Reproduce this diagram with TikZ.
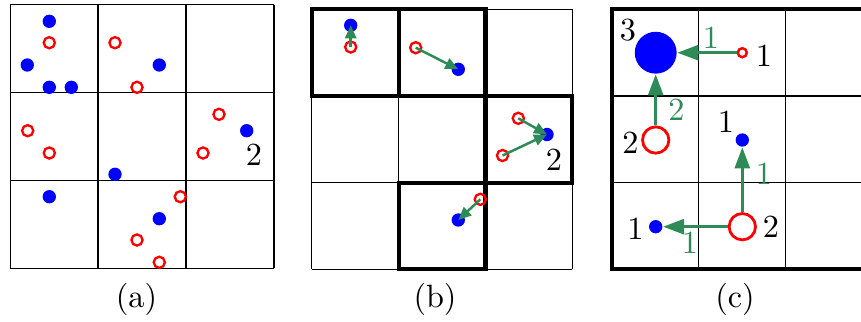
\documentclass[tikz,border=0pt]{standalone}
\usetikzlibrary{arrows.meta}
\definecolor{sgreen}{RGB}{46,139,87}
\begin{document}
\begin{tikzpicture}[x=0.3226pt,y=-0.3226pt,
  gridline/.style={line width=0.4pt, black},
  thickbox/.style={line width=1.3pt, line join=miter},
  bdot/.style={circle, fill=blue, inner sep=0pt, minimum size=4.3pt},
  rdot/.style={circle, draw=red, line width=0.75pt, inner sep=0pt, minimum size=3.6pt},
  garrow/.style={draw=sgreen, line width=0.8pt, -{Triangle[length=4.2pt,width=3.6pt]}},
  gbig/.style={draw=sgreen, line width=1pt, -{Triangle[length=6.8pt,width=4.8pt]}},
  lbl/.style={inner sep=0pt, font=\fontsize{10.4}{12}\selectfont},
  glbl/.style={lbl, text=sgreen}]
\useasboundingbox (0,0) rectangle (861,321);
\clip (0,0) rectangle (861,321);

% ---------- (a)
\foreach \i in {0,1,2,3} {
  \draw[gridline] ({10.2+87.9*\i},4.7) -- ({10.2+87.9*\i},268.4);
  \draw[gridline] (10.2,{4.7+87.9*\i}) -- (273.9,{4.7+87.9*\i});
}
\node[bdot] (a1) at (49.3,21.3) {};
\node[rdot] (a2) at (49.3,42.7) {};
\node[bdot] (a3) at (27.3,65) {};
\node[bdot] (a4) at (49.3,87.3) {};
\node[bdot] (a5) at (71.3,87.3) {};
\node[rdot] (a6) at (115,42.7) {};
\node[bdot] (a7) at (159.3,65) {};
\node[rdot] (a8) at (137,87.3) {};
\node[rdot] (a9) at (219,114.3) {};
\node[bdot] (a10) at (246.7,130.7) {};
\node[rdot] (a11) at (203,153) {};
\node[lbl] (a12) at (254,155) {2};
\node[rdot] (a13) at (27.7,130.7) {};
\node[rdot] (a14) at (49.3,153) {};
\node[bdot] (a15) at (115,174.3) {};
\node[rdot] (a16) at (180.3,196.7) {};
\node[bdot] (a17) at (49.3,196.7) {};
\node[bdot] (a18) at (159.3,218.7) {};
\node[rdot] (a19) at (137,240) {};
\node[rdot] (a20) at (159.3,262.3) {};
\node[lbl] (capa) at (136.5,299) {(a)};

% ---------- (b)
\foreach \i in {0,1,2,3} {
  \draw[gridline] ({311.7+86.9*\i},9.3) -- ({311.7+86.9*\i},269.3);
  \draw[gridline] (311.7,{9.3+86.7*\i}) -- (572.3,{9.3+86.7*\i});
}
\draw[thickbox] (311.7,9.3) rectangle (398.6,96);
\draw[thickbox] (398.6,9.3) rectangle (485.5,96);
\draw[thickbox] (485.5,96) rectangle (572.3,182.7);
\draw[thickbox] (398.6,182.7) rectangle (485.5,269.3);
\node[bdot] (b1) at (350.7,25.3) {};
\node[rdot] (b2) at (350.7,47) {};
\node[rdot] (b3) at (415.7,47.7) {};
\node[bdot] (b4) at (458.3,69.3) {};
\node[rdot] (b5) at (518.3,118.3) {};
\node[rdot] (b6) at (502.5,155.5) {};
\node[bdot] (b7) at (547,134.5) {};
\node[lbl] (b10) at (554,159.5) {2};
\node[rdot] (b8) at (480.3,199.3) {};
\node[bdot] (b9) at (458.3,220) {};
\node[lbl] (capb) at (435,299) {(b)};
\draw[garrow] (b2.center) -- (b1.center);
\draw[garrow] (b3.center) -- (b4.center);
\draw[garrow] (b5.center) -- (b7.center);
\draw[garrow] (b6.center) -- (b7.center);
\draw[garrow] (b8.center) -- (b9.center);

% ---------- (c)
\foreach \i in {1,2} {
  \draw[gridline] ({611.7+87*\i},9.3) -- ({611.7+87*\i},269.3);
  \draw[gridline] (611.7,{9.3+86.7*\i}) -- (872.7,{9.3+86.7*\i});
}
\draw[thickbox] (611.7,9.3) rectangle (872.7,269.3);
\node[circle, fill=blue, inner sep=0pt, minimum size=13.5pt] (c1) at (655.7,52.7) {};
\node[rdot, line width=0.8pt, minimum size=2.9pt] (c2) at (742.3,52.7) {};
\node[rdot, line width=0.9pt, minimum size=8.5pt] (c3) at (655.7,140) {};
\node[bdot] (c4) at (742.3,140) {};
\node[rdot, line width=0.9pt, minimum size=8.5pt] (c5) at (742.3,226.7) {};
\node[bdot] (c6) at (655.7,226.7) {};
\node[lbl] (l1) at (628,30) {3};
\node[lbl] (l2) at (764,56) {1};
\node[glbl] (l3) at (711,37.5) {1};
\node[glbl] (l4) at (676.3,110) {2};
\node[lbl] (l5) at (630.5,142.5) {2};
\node[lbl] (l6) at (725.8,121.7) {1};
\node[glbl] (l7) at (764,174) {1};
\node[lbl] (l8) at (635.5,228.3) {1};
\node[lbl] (l9) at (771,227) {2};
\node[glbl] (l10) at (690,242.5) {1};
\node[lbl] (capc) at (735,299) {(c)};
\draw[gbig] (c2) -- (c1);
\draw[gbig] (c3) -- (c1);
\draw[gbig] (c5) -- (c4);
\draw[gbig] (c5) -- (c6);
\end{tikzpicture}
\end{document}
